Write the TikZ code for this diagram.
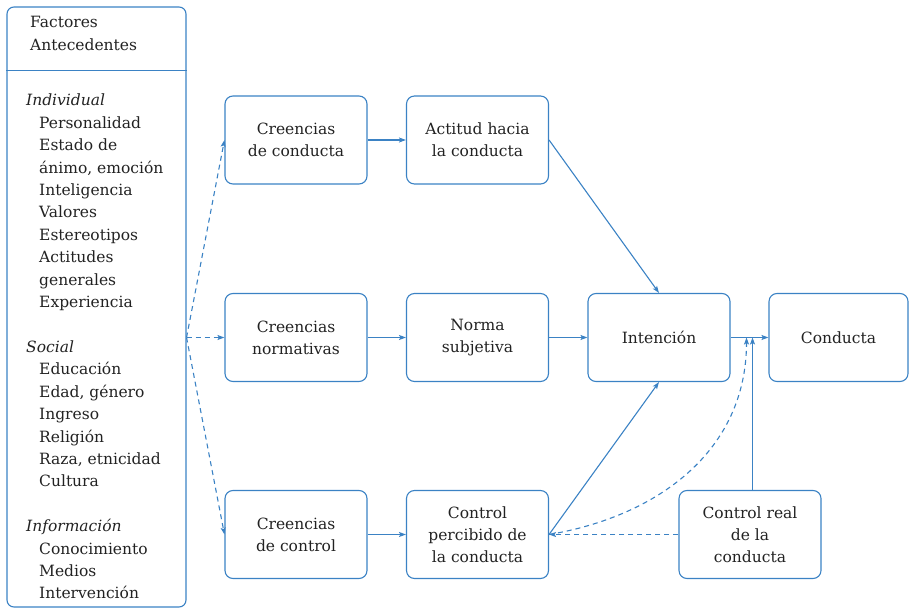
\documentclass[tikz,border=0pt]{standalone}
\usepackage{fontspec}
\setmainfont{DejaVu Serif}
\usetikzlibrary{arrows.meta}
\definecolor{linkblue}{HTML}{3B82C4}
\definecolor{inktext}{HTML}{222222}
\tikzset{
  stagebox/.style={draw=linkblue, line width=1.1pt, rounded corners=8pt,
    minimum width=142pt, minimum height=88pt, inner sep=0pt,
    align=center, text=inktext, font=\fontsize{15.5}{22}\selectfont},
  listtxt/.style={anchor=base west, inner sep=0pt, text=inktext,
    font=\fontsize{15.5}{22}\selectfont},
  flow/.style={draw=linkblue, line width=1.1pt,
    -{Stealth[length=7pt,width=5pt,inset=1.5pt]}},
  dflow/.style={flow, dash pattern=on 5pt off 4pt},
}
\begin{document}
\begin{tikzpicture}[x=1pt,y=-1pt]
\useasboundingbox (0,0) rectangle (909,609);

% antecedent factors panel
\node[draw=linkblue, line width=1.1pt, rounded corners=7pt,
      minimum width=179pt, minimum height=600pt, inner sep=0pt]
      (ant) at (96.5,307) {};
\draw[linkblue, line width=1.1pt] ([yshift=-64pt]ant.north west) -- ([yshift=-64pt]ant.north east);
\node[listtxt] (fa1) at (30,28) {Factores};
\node[listtxt] (fa2) at (30,51) {Antecedentes};

\foreach \txt/\xx/\n [count=\i] in {
  {\itshape Individual}/26/0, Personalidad/39/1, {Estado de}/39/2,
  {ánimo, emoción}/39/3, Inteligencia/39/4, Valores/39/5,
  Estereotipos/39/6, Actitudes/39/7, generales/39/8, Experiencia/39/9,
  {\itshape Social}/26/11, Educación/39/12, {Edad, género}/39/13,
  Ingreso/39/14, Religión/39/15, {Raza, etnicidad}/39/16, Cultura/39/17,
  {\itshape Información}/26/19, Conocimiento/39/20, Medios/39/21,
  Intervención/39/22}
  \node[listtxt] (it\i) at (\xx,106+22.4*\n) {\txt};

% stages of the model
\node[stagebox] (cc)  at (296,140)   {Creencias\\de conducta};
\node[stagebox] (ac)  at (477.5,140) {Actitud hacia\\la conducta};
\node[stagebox] (cn)  at (296,337.5) {Creencias\\normativas};
\node[stagebox] (ns)  at (477.5,337.5) {Norma\\subjetiva};
\node[stagebox] (ic)  at (659,337.5) {Intención};
\node[stagebox, minimum width=139pt] (co) at (838.5,337.5) {Conducta};
\node[stagebox] (ccn) at (296,534.5) {Creencias\\de control};
\node[stagebox] (cp)  at (477.5,534.5) {Control\\percibido de\\la conducta};
\node[stagebox] (cr)  at (750,534.5) {Control real\\de la\\conducta};

% fan-out from the antecedents
\coordinate (fan) at (ant.east |- cn.west);
\draw[dflow] (fan) -- (cc.west);
\draw[dflow] (fan) -- (cn.west);
\draw[dflow] (fan) -- (ccn.west);

% main paths
\draw[flow] (cc) -- (ac);
\draw[flow] (cn) -- (ns);
\draw[flow] (ns) -- (ic);
\draw[flow] (ic) -- (co);
\draw[flow] (ccn) -- (cp);
\draw[flow] (ac.east) -- (ic.north);
\draw[flow] (cp.east) -- (ic.south);

% actual control
\coordinate (crtop) at ([xshift=2.5pt]cr.north);
\coordinate (crhit) at (crtop |- ic.east);
\coordinate (pchit) at ([xshift=-6pt]crhit);
\draw[flow] (crtop) -- (crhit);
\draw[dflow] (cr.west) -- (cp.east);
\draw[dflow] (cp.east) .. controls (659,516) and (746.5,450) .. (pchit);
\end{tikzpicture}
\end{document}
